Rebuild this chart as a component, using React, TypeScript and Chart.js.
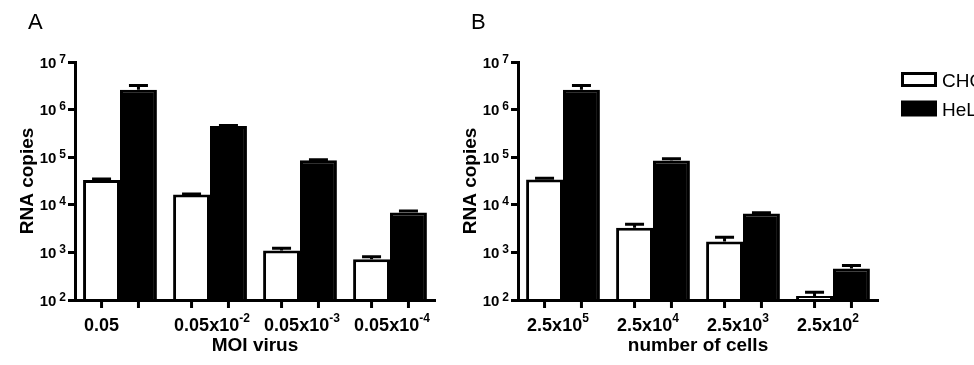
import React, { useEffect, useRef } from "react";
import { Chart, registerables } from "chart.js";

Chart.register(...registerables);

// ---- data ----
const seriesNames = ["CHO", "HeLa"];

const moiLabels = ["0.05", "0.05x10^-2", "0.05x10^-3", "0.05x10^-4"];
const choMoi = [33000, 16500, 1100, 720];
const choMoiErr = [2000, 400, 120, 90];
const helaMoi = [2600000, 450000, 86000, 6900];
const helaMoiErr = [600000, 15000, 2000, 500];

const cellLabels = ["2.5x10^5", "2.5x10^4", "2.5x10^3", "2.5x10^2"];
const choCells = [34000, 3300, 1700, 121];
const choCellsErr = [2000, 600, 370, 24];
const helaCells = [2600000, 85000, 6600, 460];
const helaCellsErr = [600000, 8000, 200, 70];

const yTickValues = [1e2, 1e3, 1e4, 1e5, 1e6, 1e7];
const yTickLabels = ["10^2", "10^3", "10^4", "10^5", "10^6", "10^7"];
const yTitle = "RNA copies";

const FONT = '"Liberation Sans", Arial, Helvetica, sans-serif';
const INK = "#000";

// draws "base^sup" as a base string followed by a raised superscript
function drawSup(
  ctx: CanvasRenderingContext2D,
  text: string,
  x: number,
  baseline: number,
  baseSize: number,
  supSize: number,
  rise: number,
  gap: number,
  align: "left" | "right"
) {
  const [base, sup = ""] = text.split("^");
  ctx.font = `bold ${baseSize}px ${FONT}`;
  const bw = ctx.measureText(base).width;
  ctx.font = `bold ${supSize}px ${FONT}`;
  const sw = sup ? ctx.measureText(sup).width + gap : 0;
  const x0 = align === "right" ? x - bw - sw : x;
  ctx.textAlign = "left";
  ctx.textBaseline = "alphabetic";
  ctx.font = `bold ${baseSize}px ${FONT}`;
  ctx.fillText(base, x0, baseline);
  if (sup) {
    ctx.font = `bold ${supSize}px ${FONT}`;
    ctx.fillText(sup, x0 + bw + gap, baseline - rise);
  }
}

const figurePlugin = {
  id: "figure",
  afterDatasetsDraw(chart: any) {
    // upper error bars with caps
    const { ctx } = chart;
    const y = chart.scales.y;
    ctx.save();
    ctx.strokeStyle = INK;
    ctx.lineWidth = 3;
    chart.data.datasets.forEach((ds: any, di: number) => {
      const meta = chart.getDatasetMeta(di);
      meta.data.forEach((bar: any, i: number) => {
        const top = y.getPixelForValue(ds.data[i] + ds.errors[i]);
        ctx.beginPath();
        ctx.moveTo(bar.x, bar.y);
        ctx.lineTo(bar.x, top);
        ctx.moveTo(bar.x - 9.5, top);
        ctx.lineTo(bar.x + 9.5, top);
        ctx.stroke();
      });
    });
    ctx.restore();
  },
  afterDraw(chart: any, _args: any, opts: any) {
    const { ctx, chartArea } = chart;
    const y = chart.scales.y;
    ctx.save();
    ctx.fillStyle = INK;
    ctx.strokeStyle = INK;

    // tick marks under every bar
    ctx.lineWidth = 3;
    chart.data.datasets.forEach((_ds: any, di: number) => {
      chart.getDatasetMeta(di).data.forEach((bar: any) => {
        ctx.beginPath();
        ctx.moveTo(bar.x, chartArea.bottom + 1);
        ctx.lineTo(bar.x, chartArea.bottom + 8);
        ctx.stroke();
      });
    });

    // category labels, aligned to the left edge of each group
    const first = chart.getDatasetMeta(0).data;
    chart.data.labels.forEach((lab: string, i: number) => {
      const bar = first[i];
      const left = bar.x - bar.width / 2;
      drawSup(ctx, lab, left + 1, chartArea.bottom + 31, 18, 12, 9, 0, "left");
    });

    // y tick labels
    yTickValues.forEach((v, i) => {
      const py = y.getPixelForValue(v);
      drawSup(ctx, yTickLabels[i], chartArea.left - 9, py + 5.5, 15, 12, 5, 3, "right");
    });

    // panel letter
    ctx.font = `22px ${FONT}`;
    ctx.textAlign = "left";
    ctx.textBaseline = "alphabetic";
    ctx.fillText(opts.letter, 28, 29);

    // legend
    if (opts.legend) {
      const lx = opts.legendX;
      chart.data.datasets.forEach((ds: any, di: number) => {
        const top = 72 + di * 28.5;
        if (ds.backgroundColor === "#fff") {
          ctx.fillStyle = "#fff";
          ctx.fillRect(lx, top, 36, 15);
          ctx.lineWidth = 3;
          ctx.strokeStyle = ds.borderColor;
          ctx.strokeRect(lx + 1.5, top + 1.5, 33, 12);
        } else {
          ctx.fillStyle = ds.backgroundColor;
          ctx.fillRect(lx, top, 36, 16);
        }
        ctx.fillStyle = INK;
        ctx.font = `19px ${FONT}`;
        ctx.fillText(ds.label, lx + 41, top + 15);
      });
    }
    ctx.restore();
  },
};

type PanelProps = {
  left: number;
  width: number;
  letter: string;
  labels: string[];
  cho: number[];
  choErr: number[];
  hela: number[];
  helaErr: number[];
  xTitle: string;
  legend?: boolean;
};

function Panel(p: PanelProps) {
  const ref = useRef<HTMLCanvasElement>(null);
  useEffect(() => {
    const titleFont = { family: FONT, size: 19, weight: "bold" as const };
    const chart = new Chart(ref.current as HTMLCanvasElement, {
      type: "bar",
      data: {
        labels: p.labels,
        datasets: [
          {
            label: seriesNames[0],
            data: p.cho,
            errors: p.choErr,
            backgroundColor: "#fff",
            borderColor: INK,
            borderWidth: 3,
            categoryPercentage: 0.82,
            barPercentage: 1,
          } as any,
          {
            label: seriesNames[1],
            data: p.hela,
            errors: p.helaErr,
            backgroundColor: INK,
            borderColor: INK,
            borderWidth: 3,
            categoryPercentage: 0.82,
            barPercentage: 1,
          } as any,
        ],
      },
      options: {
        responsive: false,
        animation: false,
        events: [],
        layout: { padding: { top: 62, left: 0, right: p.width - 435, bottom: 0 } },
        plugins: {
          legend: { display: false },
          tooltip: { enabled: false },
          figure: { letter: p.letter, legend: !!p.legend, legendX: 458 },
        } as any,
        scales: {
          x: {
            type: "category",
            offset: true,
            grid: { display: false },
            border: { display: true, color: INK, width: 3, z: 1 },
            ticks: { display: false },
            title: {
              display: true,
              text: p.xTitle,
              color: INK,
              font: titleFont,
              padding: { top: 0, bottom: 8 },
            },
            afterFit: (s: any) => {
              s.height = 65;
            },
          },
          y: {
            type: "logarithmic",
            min: 100,
            max: 1e7,
            afterBuildTicks: (s: any) => {
              s.ticks = yTickValues.map((value) => ({ value }));
            },
            grid: {
              drawOnChartArea: false,
              drawTicks: true,
              tickLength: 7,
              tickWidth: 3,
              tickColor: INK,
              color: INK,
            },
            border: { display: true, color: INK, width: 3, z: 1 },
            ticks: { display: false },
            title: {
              display: true,
              text: yTitle,
              color: INK,
              font: titleFont,
              padding: { top: 16, bottom: 0 },
            },
            afterFit: (s: any) => {
              s.width = 75;
            },
          },
        },
      } as any,
      plugins: [figurePlugin],
    });
    return () => chart.destroy();
  }, []);
  return (
    <canvas
      ref={ref}
      width={p.width}
      height={365}
      style={{ position: "absolute", left: p.left, top: 0, display: "block" }}
    />
  );
}

export default function App() {
  return (
    <div
      style={{
        position: "absolute",
        left: 0,
        top: 0,
        width: 974,
        height: 365,
        overflow: "hidden",
        background: "#fff",
      }}
    >
      <Panel
        left={0}
        width={443}
        letter="A"
        labels={moiLabels}
        cho={choMoi}
        choErr={choMoiErr}
        hela={helaMoi}
        helaErr={helaMoiErr}
        xTitle="MOI virus"
      />
      <Panel
        left={443}
        width={540}
        letter="B"
        labels={cellLabels}
        cho={choCells}
        choErr={choCellsErr}
        hela={helaCells}
        helaErr={helaCellsErr}
        xTitle="number of cells"
        legend
      />
    </div>
  );
}
